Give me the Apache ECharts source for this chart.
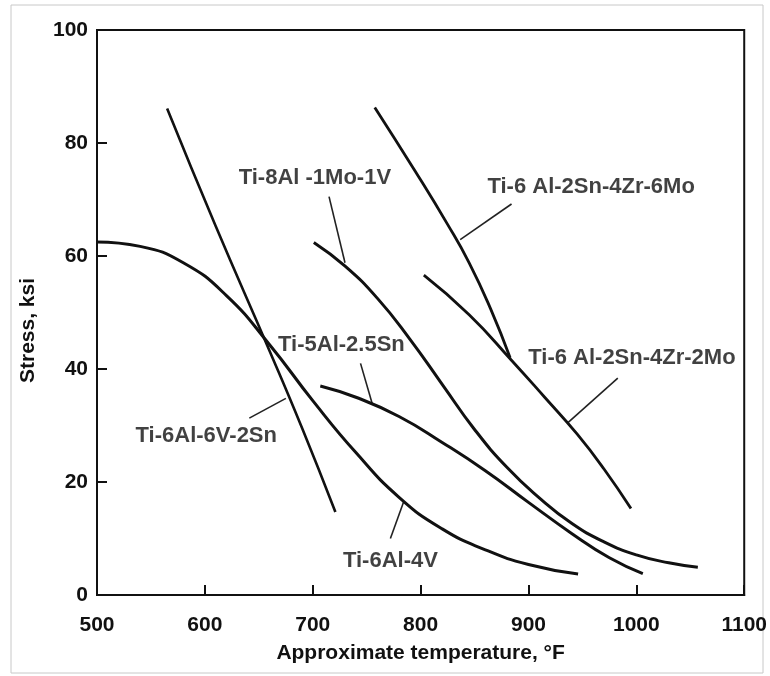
<!DOCTYPE html>
<html>
<head>
<meta charset="utf-8">
<title>Titanium alloys: stress vs temperature</title>
<script src="https://cdn.jsdelivr.net/npm/echarts@6/dist/echarts.min.js"></script>
<style>
  html, body { margin: 0; padding: 0; background: #fff; }
  #chart { width: 770px; height: 676px; }
</style>
</head>
<body>
<div id="chart"></div>
<script>
// axis ticks
const xTicks = [500, 600, 700, 800, 900, 1000, 1100]
const yTicks = [0, 20, 40, 60, 80, 100]

// curves, [temperature °F, stress ksi]
const ti6Al6V2Sn = [[565, 86.1], [610, 65.3], [660, 43.2], [690, 29.6], [721, 14.7]]
const ti6Al4V = [[500, 62.5], [540, 61.7], [580, 58.8], [620, 53.0], [660, 44.3], [700, 34.4],
  [740, 25.2], [780, 17.3], [820, 11.7], [860, 8.0], [900, 5.4], [946, 3.7]]
const ti5Al25Sn = [[707, 37.0], [740, 35.0], [780, 31.6], [820, 27.0], [860, 22.0], [900, 16.4],
  [940, 10.9], [975, 6.6], [1006, 3.8]]
const ti8Al1Mo1V = [[701, 62.4], [730, 58.2], [760, 52.5], [790, 45.3], [820, 37.3], [850, 29.3],
  [880, 22.6], [910, 17.2], [940, 12.7], [970, 9.4], [1000, 7.1], [1030, 5.7], [1057, 4.9]]
const ti6242_6Mo = [[757.5, 86.3], [795, 75.0], [825, 65.6], [845, 58.8], [865, 50.6], [883, 42.0]]
const ti6242_2Mo = [[803, 56.6], [845, 49.6], [884, 41.6], [915, 35.0], [945, 28.5], [970, 22.3], [995, 15.3]]

// leader lines from label to curve
const leaders = [
  [[884.3, 69.2], [836.7, 62.9]],
  [[982.8, 38.4], [936.6, 30.5]],
  [[715.1, 70.5], [729.9, 58.8]],
  [[744.3, 41.0], [755.1, 33.9]],
  [[772, 10.0], [784.3, 16.5]],
  [[641.2, 31.3], [675.1, 34.8]]
]

// curve labels and where they sit
const labelNames = ["Ti-6 Al-2Sn-4Zr-6Mo", "Ti-6 Al-2Sn-4Zr-2Mo", "Ti-8Al -1Mo-1V", "Ti-5Al-2.5Sn", "Ti-6Al-4V", "Ti-6Al-6V-2Sn"]
const labelAt = [[958.1, 72.3], [995.9, 41.9], [702, 73.9], [726.6, 44.2], [772, 6.0], [601.3, 28.2]]

const curves = [
  { name: "Ti-6Al-6V-2Sn", data: ti6Al6V2Sn, width: 2.6 },
  { name: "Ti-6Al-4V", data: ti6Al4V, width: 3 },
  { name: "Ti-5Al-2.5Sn", data: ti5Al25Sn, width: 3 },
  { name: "Ti-8Al-1Mo-1V", data: ti8Al1Mo1V, width: 3 },
  { name: "Ti-6Al-2Sn-4Zr-6Mo", data: ti6242_6Mo, width: 2.8 },
  { name: "Ti-6Al-2Sn-4Zr-2Mo", data: ti6242_2Mo, width: 2.8 }
]

const FONT = "'Liberation Sans', Arial, Helvetica, sans-serif"
const INK = "#111"

const chart = echarts.init(document.getElementById("chart"))

const series = []
curves.forEach((c) => {
  series.push({
    name: c.name,
    type: "line",
    data: c.data,
    smooth: 0.5,
    symbol: "none",
    lineStyle: { color: INK, width: c.width },
    z: 3
  })
})
leaders.forEach((l, i) => {
  series.push({
    name: "leader" + i,
    type: "line",
    data: l,
    symbol: "none",
    lineStyle: { color: "#222", width: 1.6 },
    z: 2
  })
})
series.push({
  name: "labels",
  type: "scatter",
  symbolSize: 0,
  data: labelNames.map((n, i) => ({ name: n, value: labelAt[i] })),
  label: {
    show: true,
    position: "inside",
    formatter: (p) => p.name,
    color: INK,
    fontFamily: FONT,
    fontSize: 22,
    fontWeight: "bold"
  },
  z: 4
})

chart.setOption({
  animation: false,
  backgroundColor: "#fff",
  grid: {
    left: 97, right: 23, top: 30, bottom: 81,
    show: true, borderColor: INK, borderWidth: 2
  },
  xAxis: {
    type: "value",
    min: xTicks[0],
    max: xTicks[xTicks.length - 1],
    interval: 100,
    name: "Approximate temperature, °F",
    nameLocation: "middle",
    nameGap: 48,
    nameTextStyle: { color: INK, fontFamily: FONT, fontSize: 21, fontWeight: "bold" },
    axisLine: { lineStyle: { color: INK, width: 2 } },
    axisTick: { inside: true, length: 10, lineStyle: { color: INK, width: 2 } },
    axisLabel: { margin: 20, color: INK, fontFamily: FONT, fontSize: 21, fontWeight: "bold", formatter: (v) => String(v) },
    splitLine: { show: false }
  },
  yAxis: {
    type: "value",
    min: yTicks[0],
    max: yTicks[yTicks.length - 1],
    interval: 20,
    name: "Stress, ksi",
    nameLocation: "middle",
    nameGap: 58,
    nameTextStyle: { color: INK, fontFamily: FONT, fontSize: 21, fontWeight: "bold", padding: [0, 36, 0, 0] },
    axisLine: { lineStyle: { color: INK, width: 2 } },
    axisTick: { inside: true, length: 10, lineStyle: { color: INK, width: 2 } },
    axisLabel: { margin: 9, color: INK, fontFamily: FONT, fontSize: 21, fontWeight: "bold", formatter: (v) => String(v) },
    splitLine: { show: false }
  },
  graphic: [{
    type: "rect",
    shape: { x: 11, y: 5, width: 752, height: 668 },
    style: { fill: "none", stroke: "#c8c8c8", lineWidth: 1 },
    silent: true
  }],
  series: series
})
</script>
</body>
</html>
